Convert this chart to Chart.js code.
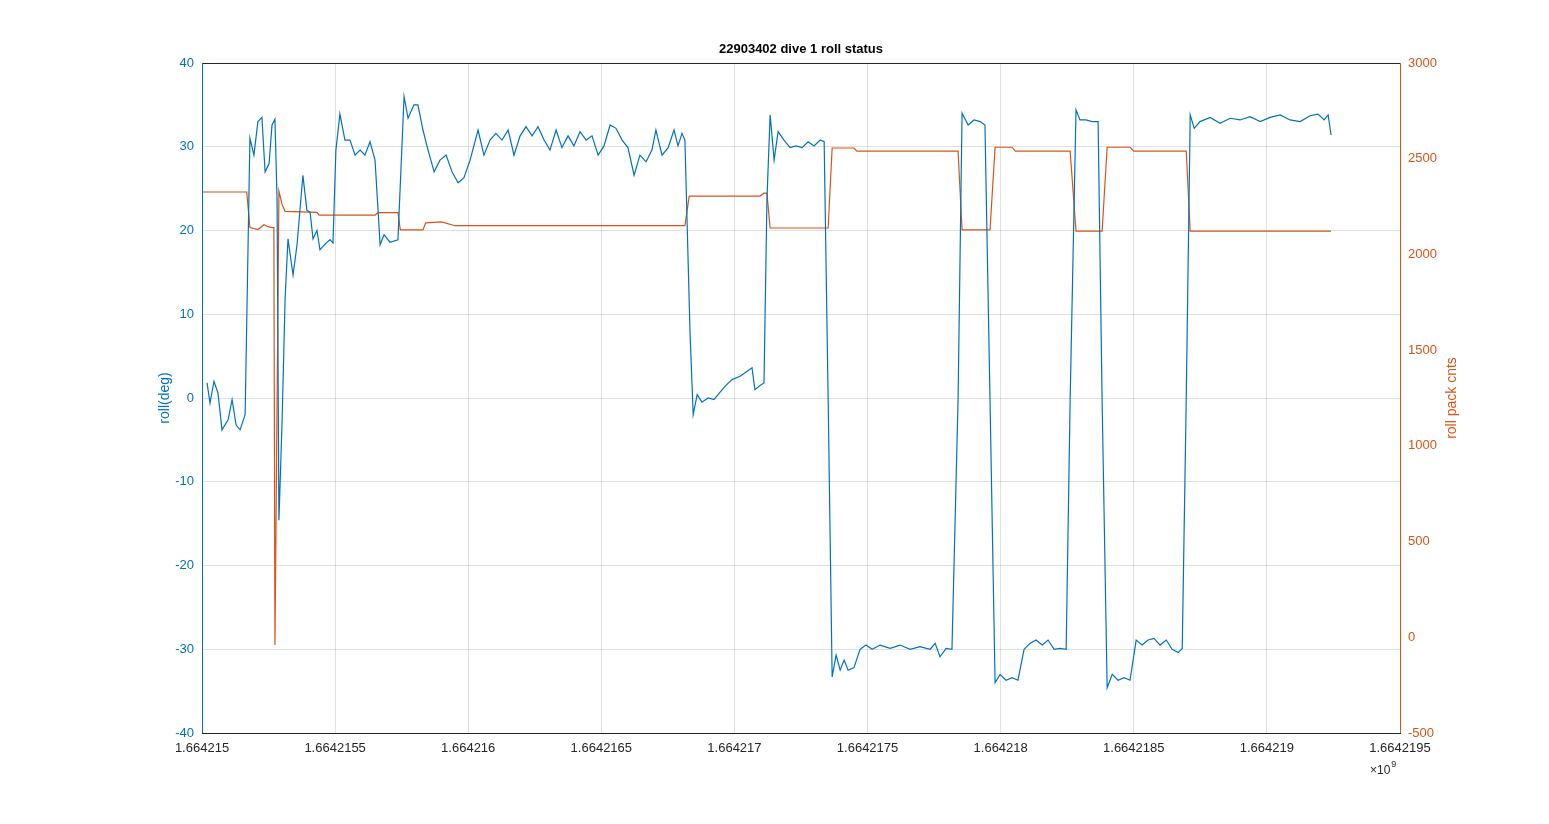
<!DOCTYPE html>
<html>
<head>
<meta charset="utf-8">
<script src="https://cdn.jsdelivr.net/npm/chart.js@4"></script>
<style>
  html, body { margin: 0; padding: 0; background: #fff; }
  #wrap { width: 1549px; height: 824px; }
</style>
</head>
<body>
<div id="wrap"><canvas id="rollChart"></canvas></div>
<script>
const T0 = 1664215000;
const xTicks = [1664215000, 1664215500, 1664216000, 1664216500, 1664217000, 1664217500, 1664218000, 1664218500, 1664219000, 1664219500];

// roll (deg), time as seconds after T0
const rollTime = [19,30,45,60,75,98,113,128,143,162,180,195,210,225,237,252,263,274,282,289,301,312,323,342,357,379,394,406,417,432,443,466,481,492,503,518,537,556,575,594,612,631,650,669,684,706,736,759,774,796,811,830,849,872,894,917,939,962,984,1007,1037,1059,1082,1104,1127,1150,1172,1195,1217,1240,1262,1285,1307,1330,1352,1375,1397,1420,1443,1465,1488,1510,1533,1555,1578,1600,1623,1645,1668,1690,1705,1728,1751,1773,1788,1803,1814,1833,1845,1860,1878,1901,1923,1946,1968,1991,2021,2044,2066,2077,2096,2111,2122,2134,2149,2164,2186,2209,2231,2254,2277,2299,2322,2337,2352,2367,2382,2397,2412,2427,2449,2472,2494,2517,2547,2585,2622,2660,2697,2735,2754,2772,2795,2817,2840,2855,2878,2900,2923,2941,2960,2979,2998,3020,3043,3065,3088,3110,3133,3156,3178,3201,3223,3246,3261,3283,3298,3321,3343,3366,3381,3400,3419,3441,3464,3486,3509,3531,3554,3576,3599,3622,3644,3667,3682,3697,3712,3727,3749,3787,3824,3862,3899,3937,3975,4012,4050,4087,4125,4162,4192,4215,4230,4241];
const rollDeg = [1.8,-0.6,2,0.6,-3.8,-2.6,-0.2,-3.2,-3.8,-2,31,29,33,33.5,27,28,32.6,33.3,23.6,-14.6,-2.6,11.7,19,14.7,18.3,26.6,22.4,22.2,19,20,17.7,18.5,18.9,18.5,29.6,33.9,30.8,30.8,29,29.6,29,30.6,28.4,18.3,19.5,18.6,18.9,36,33.4,35,35,32,29.6,27,28.4,29,27,25.7,26.3,28.4,32,29,30.8,31.6,30.8,32,29,31.3,32.4,31.3,32.4,30.8,29.6,32,29.9,31.3,30.1,31.8,30.8,31.3,29,30.1,32.6,32.2,30.8,29.9,26.6,29,28.2,29.6,32,29,29.9,32,30.1,31.6,30.8,8,-2,0.4,-0.5,0,-0.2,0.7,1.5,2.2,2.6,3.1,3.6,1,1.5,1.8,23.6,33.8,28.4,31.8,30.8,29.9,30.1,29.9,30.6,30.1,30.8,30.6,-0.2,-33.3,-30.7,-32.5,-31.3,-32.5,-32.2,-30,-29.5,-30,-29.5,-29.9,-29.5,-30,-29.7,-30,-29.3,-30.9,-29.9,-30,-0.2,34,32.6,33.2,33,32.6,-0.2,-34,-33,-33.7,-33.4,-33.7,-30,-29.3,-28.9,-29.5,-28.9,-30,-29.9,-30,-0.2,34.4,33.2,33.2,33,33,-0.2,-34.6,-33,-33.7,-33.4,-33.7,-28.9,-29.5,-28.9,-28.7,-29.5,-28.9,-30,-30.4,-29.9,-0.2,33.8,32.2,33,33.5,32.8,33.4,33.2,33.6,33,33.5,33.8,33.2,33,33.7,33.9,33.2,33.8,31.4];

// roll pack counts, time as seconds after T0
const packTime = [0,168,180,210,233,248,263,270,274,289,301,312,432,440,650,660,736,745,830,840,900,950,1814,1830,2096,2111,2122,2134,2352,2367,2449,2460,2840,2855,2960,2979,3043,3055,3261,3283,3381,3400,3486,3500,3697,3712,4241];
const packCnts = [2326,2326,2140,2130,2155,2145,2140,2140,-40,2330,2260,2225,2220,2205,2205,2218,2218,2128,2128,2165,2170,2150,2150,2305,2305,2320,2320,2138,2138,2556,2556,2540,2540,2128,2128,2560,2560,2540,2540,2122,2122,2560,2560,2540,2540,2122,2122];

const BLUE = '#0072BD';
const ORANGE = '#D95319';
const GRID = 'rgba(0,0,0,0.12)';
const FONT = '"Liberation Sans", Arial, sans-serif';

const toPts = (ts, vs) => ts.map((t, i) => ({ x: T0 + t, y: vs[i] }));
const fmtX = v => parseFloat((v / 1e9).toPrecision(8)).toString();

// frame, title and axis labels in MATLAB style
const decor = {
    id: 'decor',
    afterDraw(chart) {
        const { ctx, chartArea: a } = chart;
        ctx.save();
        ctx.strokeStyle = '#262626';
        ctx.lineWidth = 1;
        ctx.strokeRect(a.left + 0.5, a.top + 0.5, a.right - a.left, a.bottom - a.top);
        ctx.strokeStyle = BLUE;
        ctx.beginPath(); ctx.moveTo(a.left + 0.5, a.top); ctx.lineTo(a.left + 0.5, a.bottom); ctx.stroke();
        ctx.strokeStyle = ORANGE;
        ctx.beginPath(); ctx.moveTo(a.right + 0.5, a.top); ctx.lineTo(a.right + 0.5, a.bottom); ctx.stroke();

        ctx.fillStyle = '#000';
        ctx.font = 'bold 13px ' + FONT;
        ctx.textAlign = 'center';
        ctx.textBaseline = 'middle';
        ctx.fillText('22903402 dive 1 roll status', (a.left + a.right) / 2, 49);

        ctx.font = '12px ' + FONT;
        ctx.fillStyle = '#262626';
        ctx.textAlign = 'left';
        ctx.fillText('\u00d710', 1370, 771);
        const w = ctx.measureText('\u00d710').width;
        ctx.font = '9px ' + FONT;
        ctx.fillText('9', 1370 + w + 1, 765);

        ctx.font = '14px ' + FONT;
        ctx.textAlign = 'center';
        ctx.save();
        ctx.translate(165, 398); ctx.rotate(-Math.PI / 2);
        ctx.fillStyle = BLUE; ctx.fillText('roll(deg)', 0, 0);
        ctx.restore();
        ctx.save();
        ctx.translate(1452, 398); ctx.rotate(-Math.PI / 2);
        ctx.fillStyle = ORANGE; ctx.fillText('roll pack cnts', 0, 0);
        ctx.restore();
        ctx.restore();
    }
};

new Chart(document.getElementById('rollChart').getContext('2d'), {
    type: 'line',
    data: {
        datasets: [{
            label: 'roll',
            data: toPts(rollTime, rollDeg),
            borderColor: BLUE,
            borderWidth: 1.2,
            pointRadius: 0,
            yAxisID: 'y',
        }, {
            label: 'roll pack cnts',
            data: toPts(packTime, packCnts),
            borderColor: ORANGE,
            borderWidth: 1.2,
            pointRadius: 0,
            yAxisID: 'y1',
        }],
    },
    options: {
        responsive: true,
        maintainAspectRatio: false,
        animation: false,
        devicePixelRatio: 1,
        layout: { padding: { top: 63, left: 0, right: 0, bottom: 0 } },
        plugins: { legend: { display: false }, tooltip: { enabled: false } },
        scales: {
            x: {
                type: 'linear',
                min: xTicks[0],
                max: xTicks[xTicks.length - 1],
                afterBuildTicks: s => { s.ticks = xTicks.map(v => ({ value: v })); },
                afterFit: s => { s.height = 91; },
                grid: { color: GRID, drawTicks: false },
                border: { display: false },
                ticks: { color: '#262626', padding: 8, maxRotation: 0, font: { size: 13, family: FONT }, callback: v => fmtX(v) },
            },
            y: {
                position: 'left',
                min: -40, max: 40,
                afterFit: s => { s.width = 202; },
                grid: { color: GRID, drawTicks: false },
                border: { display: false },
                ticks: { stepSize: 10, color: BLUE, padding: 8, font: { size: 13, family: FONT }, callback: v => String(v) },
            },
            y1: {
                position: 'right',
                min: -500, max: 3000,
                afterFit: s => { s.width = 149; },
                grid: { display: false, drawTicks: false },
                border: { display: false },
                ticks: { stepSize: 500, color: ORANGE, padding: 8, font: { size: 13, family: FONT }, callback: v => String(v) },
            },
        },
    },
    plugins: [decor],
});
</script>
</body>
</html>
